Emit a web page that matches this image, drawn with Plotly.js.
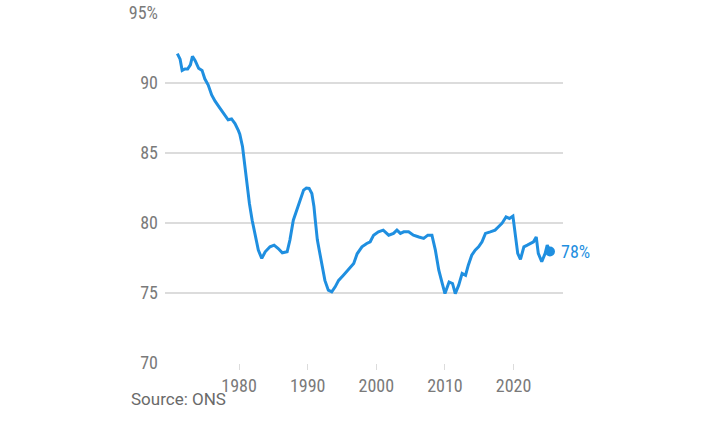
<!DOCTYPE html>
<html>
<head>
<meta charset="utf-8">
<script src="https://cdn.plot.ly/plotly-3.0.1.min.js"></script>
<style>html,body{margin:0;padding:0;background:#fff;}#chart{width:720px;height:425px;}</style>
</head>
<body>
<div id="chart"></div>
<script>
const years = [1971.0,1971.4,1971.7,1972.1,1972.5,1972.9,1973.2,1973.6,1974.1,1974.6,1975.0,1975.5,1976.0,1976.5,1977.2,1978.0,1978.4,1978.9,1979.4,1979.9,1980.1,1980.5,1980.8,1981.1,1981.5,1981.9,1982.3,1982.8,1983.3,1983.8,1984.5,1985.1,1985.7,1986.3,1987.0,1987.4,1987.9,1988.4,1988.9,1989.4,1989.8,1990.2,1990.6,1990.9,1991.1,1991.4,1991.7,1992.1,1992.5,1993.0,1993.5,1994.0,1994.5,1995.2,1995.9,1996.7,1997.2,1997.9,1998.6,1999.1,1999.6,2000.3,2001.0,2001.8,2002.5,2003.0,2003.5,2004.0,2004.7,2005.4,2006.2,2006.9,2007.5,2008.1,2008.6,2009.1,2009.6,2010.0,2010.6,2011.1,2011.5,2012.0,2012.5,2013.0,2013.4,2013.9,2014.4,2014.9,2015.4,2015.9,2016.6,2017.3,2017.8,2018.3,2018.9,2019.4,2019.9,2020.2,2020.6,2021.0,2021.5,2022.0,2022.4,2022.9,2023.3,2023.6,2024.1,2024.6,2024.9,2025.3];
const rate = [92.1,91.7,90.9,91.0,91.0,91.3,91.9,91.6,91.05,90.9,90.3,89.85,89.15,88.7,88.2,87.6,87.37,87.43,87.1,86.6,86.35,85.45,84.26,82.83,81.4,80.2,79.26,78.06,77.47,77.94,78.3,78.42,78.18,77.87,77.94,78.78,80.2,80.9,81.64,82.35,82.5,82.47,82.1,81.2,80.2,78.8,78.0,76.87,75.9,75.2,75.08,75.44,75.9,76.27,76.63,77.1,77.8,78.3,78.54,78.66,79.13,79.37,79.49,79.13,79.26,79.49,79.26,79.37,79.37,79.13,79.0,78.9,79.13,79.13,78.06,76.63,75.68,74.96,75.79,75.68,74.96,75.56,76.4,76.27,76.99,77.7,78.06,78.3,78.66,79.26,79.37,79.49,79.73,79.97,80.44,80.32,80.49,79.26,77.83,77.4,78.3,78.42,78.54,78.66,79.0,77.83,77.23,77.83,78.42,77.97];
const yTickVals = [70,75,80,85,90,95];
const yTickText = ['70','75','80','85','90','95%'];
const xTickVals = [1980,1990,2000,2010,2020];
const endLabel = '78%';
const sourceText = 'Source: ONS';

const blue = '#1f8fe0';
const tickFont = {family: '"Liberation Sans Narrow", "Arial Narrow", "Roboto Condensed", Roboto, sans-serif', size: 18, color: '#7a7a7a'};
const lastX = years[years.length-1], lastY = rate[rate.length-1];

const traces = [
  {x: years, y: rate, type: 'scatter', mode: 'lines', line: {color: blue, width: 3}, hoverinfo: 'skip', cliponaxis: false},
  {x: [lastX], y: [lastY], type: 'scatter', mode: 'markers', marker: {color: blue, size: 10}, hoverinfo: 'skip', cliponaxis: false}
];

const layout = {
  width: 720, height: 425,
  margin: {l: 165, r: 157, t: 13, b: 62, pad: 0},
  paper_bgcolor: '#fff', plot_bgcolor: '#fff',
  showlegend: false,
  xaxis: {range: [1969.2, 2027.2], tickvals: xTickVals, ticktext: xTickVals.map(String),
    showgrid: false, zeroline: false, showline: false, ticks: 'outside', ticklen: 6, tickcolor: '#dcdcdc', tickwidth: 1,
    tickfont: tickFont, fixedrange: true},
  yaxis: {range: [70, 95], tickvals: yTickVals, ticktext: yTickText, showgrid: true, gridcolor: '#dcdcdc', gridwidth: 1.5,
    zeroline: false, showline: false, ticks: '', ticklabelstandoff: 6, tickfont: tickFont, fixedrange: true},
  annotations: [
    {text: sourceText, xref: 'paper', yref: 'paper', x: -0.09, y: -0.104, xanchor: 'left', yanchor: 'middle',
     showarrow: false, font: {family: 'Roboto, "Liberation Sans", Arial, sans-serif', size: 17, color: '#6a6a6a'}},
    {text: endLabel, xref: 'x', yref: 'y', x: lastX, y: lastY, xanchor: 'left', yanchor: 'middle', xshift: 9,
     showarrow: false, font: {family: tickFont.family, size: 18, color: blue}}
  ]
};

Plotly.newPlot('chart', traces, layout, {displayModeBar: false, staticPlot: true});
</script>
</body>
</html>
